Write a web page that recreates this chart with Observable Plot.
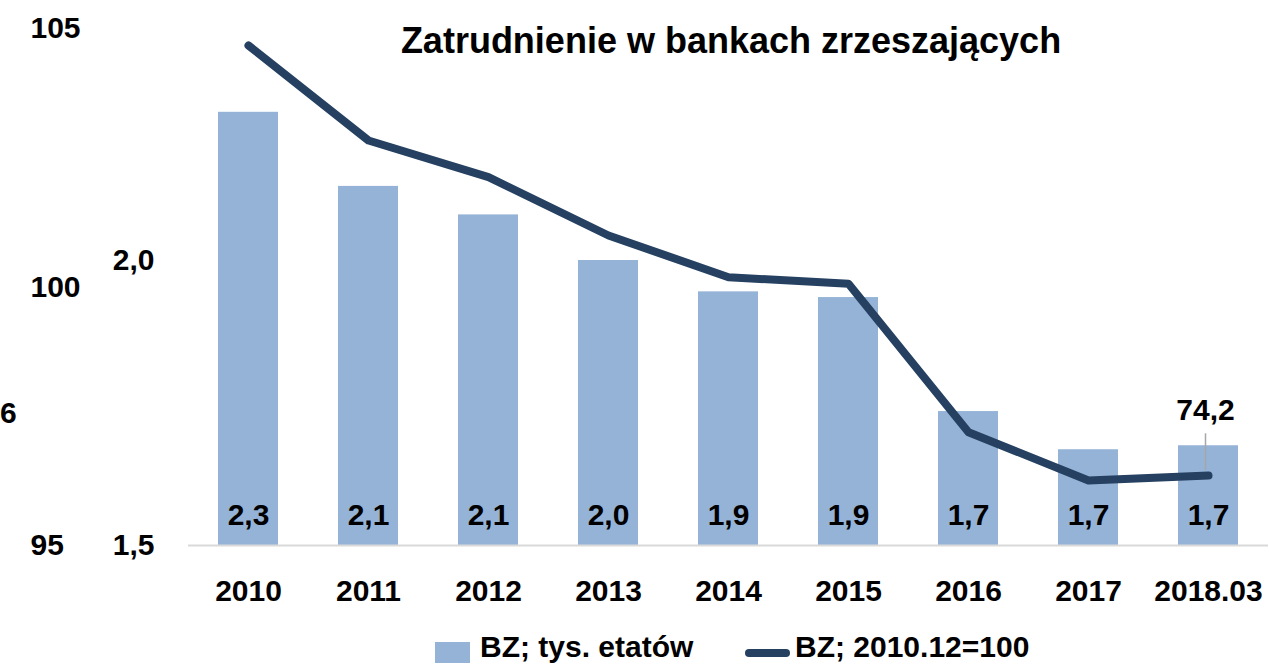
<!DOCTYPE html>
<html>
<head>
<meta charset="utf-8">
<script src="https://cdn.jsdelivr.net/npm/d3@7"></script>
<script src="https://cdn.jsdelivr.net/npm/@observablehq/plot@0.6"></script>
<style>
  html, body { margin: 0; padding: 0; background: #fff; }
  #wrap { position: relative; width: 1269px; height: 666px; overflow: hidden; background: #fff;
          font-family: "Liberation Sans", Arial, sans-serif; font-weight: bold; color: #000; }
  #wrap svg { position: absolute; left: 0; top: 0; }
  .abs { position: absolute; white-space: nowrap; }
</style>
</head>
<body>
<div id="wrap">
  <div class="abs" id="title" style="left:731px; top:23px; transform:translateX(-50%); font-size:36px; line-height:36px;">Zatrudnienie w bankach zrzeszających</div>
  <div class="abs" style="left:0px; top:398px; font-size:30px; line-height:30px;">6</div>
  <div class="abs" style="left:435px; top:642px; width:35px; height:21px; background:#95B3D7;"></div>
  <div class="abs" id="leg1" style="left:480px; top:634px; font-size:30px; line-height:26px;"></div>
  <div class="abs" style="left:745px; top:649px; width:45px; height:8px; border-radius:4px; background:#254061;"></div>
  <div class="abs" id="leg2" style="left:795px; top:634px; font-size:30px; line-height:26px;"></div>
</div>
<script>
// Categories (x axis)
const categories = ["2010", "2011", "2012", "2013", "2014", "2015", "2016", "2017", "2018.03"];
// Bars: BZ; tys. etatów
const employment = [2.26, 2.13, 2.08, 2.00, 1.945, 1.935, 1.735, 1.668, 1.675];
// Line: BZ; 2010.12=100
const indexValues = [100, 94.3, 92.1, 88.6, 86.1, 85.7, 76.8, 73.9, 74.2];
// Axis tick labels
const leftTicks = [95, 100, 105];
const empTicks = [1.5, 2.0];
// Legend labels
const seriesNames = ["BZ; tys. etatów", "BZ; 2010.12=100"];
const titleText = "Zatrudnienie w bankach zrzeszających";

document.getElementById("title").textContent = titleText;
document.getElementById("leg1").textContent = seriesNames[0];
document.getElementById("leg2").textContent = seriesNames[1];

const rows = categories.map((c, i) => ({cat: c, emp: employment[i], idx: indexValues[i]}));
const comma = v => d3.format(".1f")(v).replace(".", ",");

const FONT = "'Liberation Sans', Arial, sans-serif";
const common = {
  width: 1269, height: 620,
  marginLeft: 188, marginRight: 1, marginTop: 0, marginBottom: 75,
  style: {fontFamily: FONT, background: "transparent", overflow: "visible"}
};
const xScale = {domain: categories, paddingInner: 0.5, paddingOuter: 0.25, axis: null};
const txt = {fontSize: 30, fontWeight: "bold", fill: "#000"};

// Layer 1: bars, baseline, data labels, category labels, employment axis labels
const barsPlot = Plot.plot({
  ...common,
  x: xScale,
  y: {domain: [1.5, 2.45], range: [545, 3.5], axis: null},
  marks: [
    Plot.barY(rows, {x: "cat", y1: 1.5, y2: "emp", fill: "#95B3D7"}),
    Plot.ruleY([1.5], {stroke: "#D9D9D9", strokeWidth: 2}),
    Plot.text(rows, {x: "cat", y: 1.5, dy: -30, text: d => comma(d.emp), ...txt}),
    Plot.text(rows, {x: "cat", y: 1.5, dy: 46, text: "cat", ...txt}),
    Plot.text(empTicks, {y: d => d, frameAnchor: "left", dx: -34, textAnchor: "end", text: d => comma(d), ...txt})
  ]
});

// Layer 2: index line on its own (hidden) secondary scale
const last = [rows[rows.length - 1]];
const linePlot = Plot.plot({
  ...common,
  x: xScale,
  y: {domain: [70, 100], range: [545, 45], axis: null},
  marks: [
    Plot.line(rows, {x: "cat", y: "idx", stroke: "#254061", strokeWidth: 8, strokeLinejoin: "round", strokeLinecap: "round"}),
    Plot.ruleX(last, {x: "cat", y1: d => d.idx + 0.3, y2: d => d.idx + 2.5, dx: -3, stroke: "#A6A6A6", strokeWidth: 1.5}),
    Plot.text(last, {x: "cat", y: "idx", dy: -65, dx: -3, text: d => comma(d.idx), ...txt})
  ]
});

// Layer 3: left-most axis labels
const leftPlot = Plot.plot({
  ...common,
  marginLeft: 0,
  y: {domain: [95, 105], range: [545, 28], axis: null},
  marks: [
    Plot.text(leftTicks, {y: d => d, frameAnchor: "left", dx: 30, textAnchor: "start", text: d => String(d), ...txt})
  ]
});

const wrap = document.getElementById("wrap");
wrap.prepend(leftPlot);
wrap.prepend(linePlot);
wrap.prepend(barsPlot);
</script>
</body>
</html>
